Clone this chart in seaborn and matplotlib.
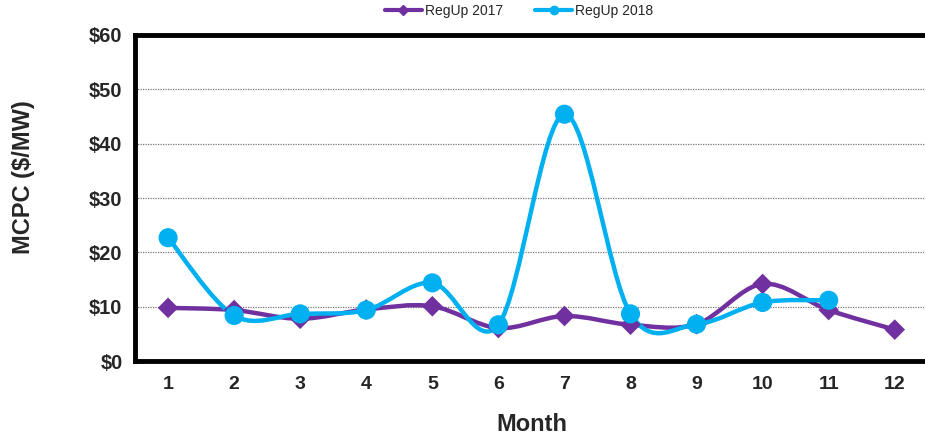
import numpy as np
import pandas as pd
import matplotlib
matplotlib.use("Agg")
import matplotlib.pyplot as plt
from matplotlib.path import Path
from matplotlib.patches import PathPatch
from matplotlib.lines import Line2D
import seaborn as sns

months = list(range(1, 13))
regup_2017 = [9.8, 9.4, 7.8, 9.5, 10.1, 6.1, 8.3, 6.7, 6.8, 14.2, 9.4, 5.8]
regup_2018 = [22.7, 8.4, 8.7, 9.4, 14.4, 6.7, 45.4, 8.7, 6.8, 10.8, 11.2, np.nan]
series_names = ["RegUp 2017", "RegUp 2018"]
colors = ["#7030A0", "#00B0F0"]
yticks = [0, 10, 20, 30, 40, 50, 60]
ytick_labels = ["$0", "$10", "$20", "$30", "$40", "$50", "$60"]

df = pd.DataFrame({
    "Month": months * 2,
    "MCPC": regup_2017 + regup_2018,
    "Series": [series_names[0]] * 12 + [series_names[1]] * 12,
}).dropna()

sns.set_theme(style="white")
plt.rcParams["font.family"] = ["Liberation Sans", "DejaVu Sans"]

fig = plt.figure(figsize=(9.25, 4.41), dpi=100)
ax = fig.add_axes([0.146, 0.181, 0.857, 0.74])


def smooth_path(xs, ys):
    pts = np.column_stack([xs, ys])
    n = len(pts)
    verts = [pts[0]]
    codes = [Path.MOVETO]
    for i in range(n - 1):
        p0 = pts[i - 1] if i > 0 else pts[i]
        p1 = pts[i]
        p2 = pts[i + 1]
        p3 = pts[i + 2] if i + 2 < n else pts[i + 1]
        c1 = p1 + (p2 - p0) / 6.0
        c2 = p2 - (p3 - p1) / 6.0
        verts += [c1, c2, p2]
        codes += [Path.CURVE4] * 3
    return Path(verts, codes)


for name, col in zip(series_names, colors):
    sub = df[df["Series"] == name]
    path = smooth_path(sub["Month"].to_numpy(float), sub["MCPC"].to_numpy(float))
    ax.add_patch(PathPatch(path, facecolor="none", edgecolor=col, lw=3.2,
                           capstyle="round", joinstyle="round", zorder=3))

sns.scatterplot(data=df[df["Series"] == series_names[0]], x="Month", y="MCPC",
                marker="D", s=110, color=colors[0], edgecolor="none", ax=ax,
                zorder=4, legend=False)
sns.scatterplot(data=df[df["Series"] == series_names[1]], x="Month", y="MCPC",
                marker="o", s=190, color=colors[1], edgecolor="none", ax=ax,
                zorder=5, legend=False)

ax.set_xlim(0.5, 12.45)
ax.set_ylim(0, 60)
ax.set_xticks(months)
ax.set_xticklabels([str(m) for m in months], fontsize=14, fontweight="bold")
ax.set_xticks(np.arange(0.5, 12.6, 1), minor=True)
ax.set_yticks(yticks)
ax.set_yticklabels(ytick_labels, fontsize=14.5, fontweight="bold")
ax.tick_params(axis="x", which="major", length=0, pad=11)
ax.tick_params(axis="x", which="minor", length=6, width=3, direction="out", color="black")
ax.tick_params(axis="y", which="major", length=6, width=3, direction="out", color="black", pad=3)

for y in yticks[1:-1]:
    ax.axhline(y, color="#777777", lw=0.9, ls=(0, (1, 1)), zorder=1)

for side in ["left", "bottom", "top"]:
    ax.spines[side].set_visible(True)
    ax.spines[side].set_color("black")
    ax.spines[side].set_linewidth(3.5)
ax.spines["right"].set_visible(False)

ax.set_xlabel("Month", fontsize=17, fontweight="bold", labelpad=14)
ax.set_ylabel("MCPC ($/MW)", fontsize=17, fontweight="bold")
ax.yaxis.set_label_coords(-0.126, 0.564)

handles = [
    Line2D([], [], color=colors[0], marker="D", markersize=5, lw=3),
    Line2D([], [], color=colors[1], marker="o", markersize=6, lw=3),
]
fig.legend(handles, series_names, loc="upper center", bbox_to_anchor=(0.561, 1.02),
           ncol=2, frameon=False, fontsize=10, handlelength=2.7, handletextpad=0.2,
           columnspacing=2.3)

fig.savefig("out.png", dpi=100, facecolor="white")
